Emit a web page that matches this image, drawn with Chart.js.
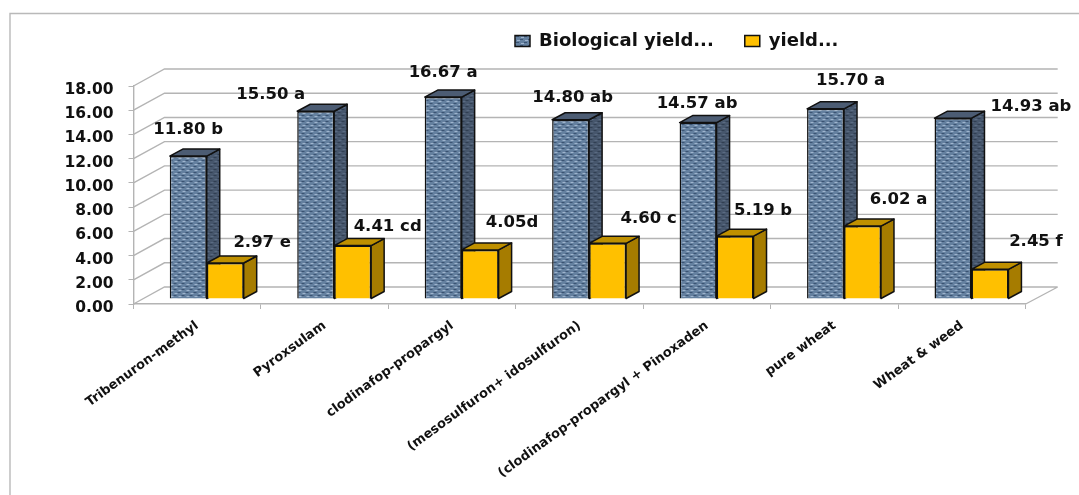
<!DOCTYPE html>
<html>
<head>
<meta charset="utf-8">
<style>
html,body{margin:0;padding:0;background:#fff}
#wrap{position:relative;width:1079px;height:495px}
</style>
<script src="https://cdn.jsdelivr.net/npm/chart.js@4/dist/chart.umd.min.js"></script>
</head>
<body>
<div id="wrap"><canvas id="c" width="1079" height="495"></canvas></div>
<script>
const categories = ["Tribenuron-methyl","Pyroxsulam","clodinafop-propargyl","(mesosulfuron+ idosulfuron)","(clodinafop-propargyl + Pinoxaden","pure wheat","Wheat & weed"];
const biologicalYield = [11.80,15.50,16.67,14.80,14.57,15.70,14.93];
const grainYield = [2.97,4.41,4.05,4.60,5.19,6.02,2.45];
const biologicalLetters = [" b"," a"," a"," ab"," ab"," a"," ab"];
const grainLetters = [" e"," cd","d"," c"," b"," a"," f"];
const seriesNames = ["Biological yield...","yield..."];

// Hand-placed label nudges relative to each bar's top centre
const biologicalNudge = [[0,-26],[-45,-17],[0,-24],[2,-22],[-1,-19],[25,-28],[78,-11]];
const grainNudge = [[37,-20],[35,-19],[32,-27],[41,-25],[28,-25],[36,-26],[46,-28]];

const FONT = '"DejaVu Sans"';
const DEPTH = {x:31, y:17};      // floor depth of the 3D box
const BAR_SHIFT = {x:9.5, y:-5}; // bars stand slightly inside the floor
const BAR_DEPTH = {x:13, y:7};   // extrusion of each bar

// Small woven texture used on the biological yield boxes
function lattice(base, light, dark){
  const p = document.createElement('canvas');
  p.width = 8; p.height = 6;
  const g = p.getContext('2d');
  g.fillStyle = base; g.fillRect(0,0,8,6);
  g.fillStyle = light; g.fillRect(1,1,3,1); g.fillRect(5,4,3,1);
  g.fillStyle = dark; g.fillRect(0,3,3,1); g.fillRect(4,0,3,1);
  return document.createElement('canvas').getContext('2d').createPattern(p,'repeat');
}
const frontFill = lattice('#64809f','#9fb4cd','#3b5372');
const sideFill = lattice('#46566c','#5a6b82','#313f52');
const palette = [
  {side:sideFill, top:'#4c5c73'},
  {side:'#a67c00', top:'#bf9000'}
];

// Back wall, floor, gridlines and the open frame round the figure
const roomPlugin = {
  id:'room',
  beforeDatasetsDraw(chart){
    const {ctx, scales:{x,y}} = chart;
    ctx.save();
    ctx.strokeStyle = '#b4b4b4';
    ctx.lineWidth = 1.4;
    ctx.beginPath();
    y.ticks.forEach(t=>{
      const py = y.getPixelForValue(t.value);
      ctx.moveTo(x.left,py);
      ctx.lineTo(x.left+DEPTH.x,py-DEPTH.y);
      ctx.lineTo(x.right+DEPTH.x+1,py-DEPTH.y);
    });
    const floor = y.getPixelForValue(0);
    ctx.moveTo(x.right,floor);
    ctx.lineTo(x.right+DEPTH.x+1,floor-DEPTH.y);
    ctx.stroke();
    ctx.strokeStyle = '#b9b9b9';
    ctx.beginPath();
    ctx.moveTo(10,chart.height);
    ctx.lineTo(10,13.5);
    ctx.lineTo(chart.width,13.5);
    ctx.stroke();
    ctx.restore();
  }
};

function box(ctx,pts,fill){
  ctx.beginPath();
  pts.forEach((p,i)=> i?ctx.lineTo(p[0],p[1]):ctx.moveTo(p[0],p[1]));
  ctx.closePath();
  ctx.fillStyle = fill;
  ctx.fill();
  ctx.stroke();
}

// Paints the series back to front as extruded boxes, shifted off the front of the floor
const barPlugin = {
  id:'extrude',
  beforeDatasetDraw(){ return false; },
  afterDatasetsDraw(chart){
    const {ctx} = chart;
    [0,1].forEach(i=>{
      const meta = chart.getDatasetMeta(i);
      const c = palette[i];
      ctx.save();
      ctx.translate(BAR_SHIFT.x,BAR_SHIFT.y);
      ctx.strokeStyle = '#111';
      ctx.lineWidth = 1.5;
      ctx.lineJoin = 'round';
      meta.data.forEach(b=>{
        const l = b.x-b.width/2, r = b.x+b.width/2, t = b.y, bot = b.base;
        const dx = BAR_DEPTH.x, dy = BAR_DEPTH.y;
        box(ctx,[[r,t],[r+dx,t-dy],[r+dx,bot-dy],[r,bot]],c.side);
        box(ctx,[[l,t],[l+dx,t-dy],[r+dx,t-dy],[r,t]],c.top);
      });
      meta.controller.draw();
      ctx.restore();
    });
    ctx.save();
    ctx.font = 'bold 16.5px '+FONT;
    ctx.fillStyle = '#111';
    ctx.textAlign = 'center';
    ctx.textBaseline = 'middle';
    const sets = [[biologicalYield,biologicalLetters,biologicalNudge],[grainYield,grainLetters,grainNudge]];
    sets.forEach(([vals,letters,nudge],i)=>{
      chart.getDatasetMeta(i).data.forEach((b,k)=>{
        ctx.fillText(vals[k].toFixed(2)+letters[k], b.x+BAR_SHIFT.x+nudge[k][0], b.y+BAR_SHIFT.y+nudge[k][1]);
      });
    });
    ctx.restore();
  }
};

// The legend sits right of centre, above the plot; value labels sit a little below their ticks
const legendPlacement = {
  id:'legendPlacement',
  afterLayout(chart){
    const lg = chart.legend;
    const w = lg.right-lg.left;
    lg.left = 515-31;
    lg.right = lg.left+w;
    lg.top = 1;
    const y = chart.scales.y;
    if(!y.drawLabelsBase){
      y.drawLabelsBase = y.drawLabels;
      y.drawLabels = function(area){
        chart.ctx.save();
        chart.ctx.translate(0,4);
        this.drawLabelsBase(area);
        chart.ctx.restore();
      };
    }
  }
};

new Chart(document.getElementById('c'),{
  type:'bar',
  data:{
    labels:categories,
    datasets:[
      {label:seriesNames[0],data:biologicalYield,backgroundColor:frontFill,borderColor:'#111',borderWidth:1.5},
      {label:seriesNames[1],data:grainYield,backgroundColor:'#ffc000',borderColor:'#111',borderWidth:1.5}
    ]
  },
  plugins:[roomPlugin,barPlugin,legendPlacement],
  options:{
    responsive:false,
    animation:false,
    categoryPercentage:0.58,
    barPercentage:1,
    layout:{padding:{top:27,right:53.3,left:0,bottom:0}},
    plugins:{
      tooltip:{enabled:false},
      legend:{
        display:true,position:'top',align:'start',
        labels:{boxWidth:15,boxHeight:11,padding:31,color:'#111',font:{family:FONT,weight:'bold',size:18}}
      }
    },
    scales:{
      x:{
        afterFit(s){ s.height = 191; },
        grid:{drawOnChartArea:false,drawTicks:true,tickLength:5,color:'#b4b4b4',offset:true},
        border:{color:'#b4b4b4',width:1.4},
        ticks:{minRotation:36,maxRotation:36,autoSkip:false,padding:9,color:'#111',font:{family:FONT,weight:'bold',size:13}}
      },
      y:{
        min:0,max:18,
        afterFit(s){ s.width = 133.5; },
        afterBuildTicks(s){ s.ticks = [0,2,4,6,8,10,12,14,16,18].map(v=>({value:v})); },
        grid:{drawOnChartArea:false,drawTicks:true,tickLength:5,color:'#b4b4b4'},
        border:{color:'#b4b4b4',width:1.4},
        ticks:{padding:15,color:'#111',callback:v=>v.toFixed(2),font:{family:FONT,weight:'bold',size:15.5}}
      }
    }
  }
});
</script>
</body>
</html>
